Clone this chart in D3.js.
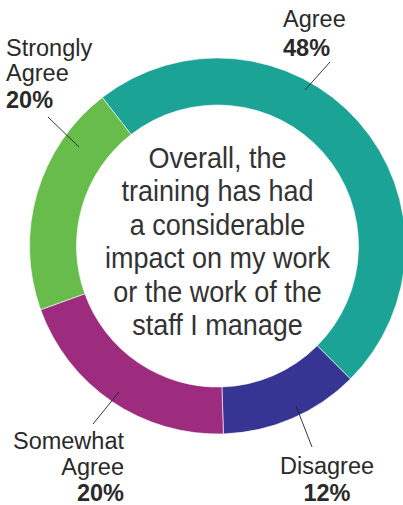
<!DOCTYPE html>
<html>
<head>
<meta charset="utf-8">
<script src="https://cdn.jsdelivr.net/npm/d3@7"></script>
<style>
  body { margin: 0; background: #fff; }
  svg { display: block; }
</style>
</head>
<body>
<script>
const width = 403, height = 505;

// data
const categories = ["Agree", "Disagree", "Somewhat Agree", "Strongly Agree"];
const values = [48, 12, 20, 20];
const colors = ["#1ba396", "#373593", "#9d2c7e", "#68bc4c"];
const labelLines = [["Agree"], ["Disagree"], ["Somewhat", "Agree"], ["Strongly", "Agree"]];
const centerLines = ["Overall, the", "training has had", "a considerable",
  "impact on my work", "or the work of the", "staff I manage"];

// layout for the callouts (placed by hand, like the original)
const callouts = [
  { anchor: "start",  x: 283, ys: [27, 56],        line: [[330, 62], [305, 90]] },
  { anchor: "middle", x: 327, ys: [474, 501],      line: [[296, 406], [312, 447]] },
  { anchor: "end",    x: 124, ys: [449, 475, 501], line: [[119, 392], [93, 424]] },
  { anchor: "start",  x: 6,   ys: [56, 81, 108],   line: [[48, 117], [79, 147]] }
];

const cx = 217.5, cy = 246;
const outerR = 188, innerR = 141;
const startDeg = -37.8;

const svg = d3.select("body").append("svg")
  .attr("width", width)
  .attr("height", height);

const pie = d3.pie()
  .sort(null)
  .value(d => d)
  .startAngle(startDeg * Math.PI / 180)
  .endAngle(startDeg * Math.PI / 180 + 2 * Math.PI);

const arc = d3.arc()
  .innerRadius(innerR)
  .outerRadius(outerR);

const g = svg.append("g")
  .attr("transform", `translate(${cx},${cy})`);

g.selectAll("path.slice")
  .data(pie(values))
  .join("path")
  .attr("class", "slice")
  .attr("d", arc)
  .attr("fill", (d, i) => colors[i])
  .attr("stroke", "#fff")
  .attr("stroke-width", 0.6);

// center text
const center = g.append("g").attr("class", "center");
const centerText = center.selectAll("text")
  .data(centerLines)
  .join("text")
  .attr("x", 0)
  .attr("y", (d, i) => -78 + i * 33.4)
  .attr("text-anchor", "middle")
  .style("font-family", "'Liberation Sans Narrow', 'Liberation Sans', Arial, sans-serif")
  .style("font-size", "30px")
  .attr("fill", "#333")
  .text(d => d);

// squeeze to the condensed look of the original
let maxW = 0;
centerText.each(function() { maxW = Math.max(maxW, this.getComputedTextLength()); });
center.attr("transform", `scale(${225 / maxW},1)`);

// callouts
const labels = svg.append("g").attr("class", "labels");
categories.forEach((c, i) => {
  const co = callouts[i];
  labels.append("line")
    .attr("x1", co.line[0][0]).attr("y1", co.line[0][1])
    .attr("x2", co.line[1][0]).attr("y2", co.line[1][1])
    .attr("stroke", "#222")
    .attr("stroke-width", 0.9);

  const lines = labelLines[i].concat([values[i] + "%"]);
  lines.forEach((t, j) => {
    labels.append("text")
      .attr("x", co.x)
      .attr("y", co.ys[j])
      .attr("text-anchor", co.anchor)
      .style("font-family", "'Liberation Sans', Arial, sans-serif")
      .style("font-size", "23.5px")
      .style("font-weight", j === lines.length - 1 ? 700 : 400)
      .attr("fill", "#2a2a2a")
      .text(t);
  });
});
</script>
</body>
</html>
